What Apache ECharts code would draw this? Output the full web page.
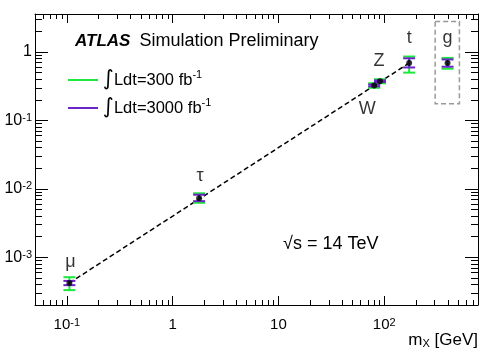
<!DOCTYPE html>
<html>
<head>
<meta charset="utf-8">
<script src="https://cdn.jsdelivr.net/npm/echarts@6/dist/echarts.min.js"></script>
<style>
  html, body { margin: 0; padding: 0; background: #fff; }
  #chart { width: 485px; height: 360px; }
</style>
</head>
<body>
<div id="chart"></div>
<script>
// particle couplings vs mass
var particles = ['μ', 'τ', 'W', 'Z', 't', 'g'];
var mass = [0.1057, 1.78, 80.4, 91.2, 172, 397];
var coupling = [0.00042, 0.0073, 0.325, 0.375, 0.69, 0.69];
var lo300 = [0.00033, 0.00625, 0.300, 0.350, 0.50, 0.57];
var hi300 = [0.00051, 0.0086, 0.350, 0.400, 0.86, 0.82];
var lo3000 = [0.00039, 0.0066, 0.315, 0.365, 0.595, 0.61];
var hi3000 = [0.00045, 0.0082, 0.335, 0.385, 0.81, 0.78];
var xTicks = [0.1, 1, 10, 100];
var xTickLabels = ['10{s|-1}', '1', '10', '10{s|2}'];
var yTicks = [0.001, 0.01, 0.1, 1];
var yTickLabels = ['10{s|-3}', '10{s|-2}', '10{s|-1}', '1'];
var gBox = [[303, 2.8], [514, 0.175]];

var labelOffsets = [[1, -21], [1, -22], [-7, 24], [-1, -20], [0, -25], [0, -25]];
var green = '#1ee83c';
var purple = '#6a26c8';
var font = 'Liberation Sans, Arial, Helvetica, sans-serif';

(function() {
  var chart = echarts.init(document.getElementById('chart'), null, { renderer: 'canvas' });

  var xMin = 0.05, xMax = 770, yMin = 2e-4, yMax = 3.6;

  function minors(lo, hi) {
    var out = [];
    for (var e = Math.floor(Math.log10(lo)); e <= Math.ceil(Math.log10(hi)); e++) {
      for (var k = 2; k <= 9; k++) {
        var v = k * Math.pow(10, e);
        if (v > lo && v < hi) out.push(v);
      }
    }
    return out;
  }

  function pick(vals, labels) {
    return function(v) {
      for (var i = 0; i < vals.length; i++) {
        if (Math.abs(v - vals[i]) / vals[i] < 1e-6) return labels[i];
      }
      return '';
    };
  }

  var rich = { s: { fontSize: 11, verticalAlign: 'top', fontFamily: font, color: '#000' } };

  function axis(pos, min, max, ticks, len, showLine, labelVals, labels, fs, margin) {
    return {
      type: 'log',
      position: pos,
      min: min,
      max: max,
      logBase: 10,
      axisLine: { show: showLine, onZero: false, lineStyle: { color: '#000', width: 1 } },
      axisTick: { show: true, inside: true, length: len, customValues: ticks, lineStyle: { color: '#000', width: 1 } },
      axisLabel: labels ? {
        show: true,
        customValues: labelVals,
        formatter: pick(labelVals, labels),
        color: '#000',
        fontSize: fs,
        fontFamily: font,
        margin: margin,
        rich: rich
      } : { show: false },
      splitLine: { show: false },
      minorTick: { show: false }
    };
  }

  var xMinor = minors(xMin, xMax), yMinor = minors(yMin, yMax);

  var xAxes = [
    axis('bottom', xMin, xMax, xTicks, 9, true, xTicks, xTickLabels, 15, 12),
    axis('bottom', xMin, xMax, xMinor, 5, false),
    axis('top', xMin, xMax, xTicks, 9, true),
    axis('top', xMin, xMax, xMinor, 5, false)
  ];
  xAxes[0].name = 'm{sub|X} [GeV]';
  xAxes[0].nameLocation = 'end';
  xAxes[0].nameGap = 0;
  xAxes[0].nameTextStyle = {
    color: '#000', fontSize: 17, fontFamily: font, align: 'right', verticalAlign: 'top',
    padding: [27, 0, 0, 0],
    rich: { sub: { fontSize: 11, verticalAlign: 'bottom', fontFamily: font, color: '#000' } }
  };

  var yAxes = [
    axis('left', yMin, yMax, yTicks, 13, true, yTicks, yTickLabels, 16, 3),
    axis('left', yMin, yMax, yMinor, 7, false),
    axis('right', yMin, yMax, yTicks, 13, true),
    axis('right', yMin, yMax, yMinor, 7, false)
  ];

  function errRender(params, api) {
    var x = api.value(0);
    var pLo = api.coord([x, api.value(1)]);
    var pHi = api.coord([x, api.value(2)]);
    var w = 6;
    var st = { stroke: api.visual('color'), lineWidth: 2 };
    return {
      type: 'group',
      children: [
        { type: 'line', shape: { x1: pLo[0], y1: pLo[1], x2: pHi[0], y2: pHi[1] }, style: st },
        { type: 'line', shape: { x1: pLo[0] - w, y1: pLo[1], x2: pLo[0] + w, y2: pLo[1] }, style: st },
        { type: 'line', shape: { x1: pHi[0] - w, y1: pHi[1], x2: pHi[0] + w, y2: pHi[1] }, style: st }
      ]
    };
  }

  var err300 = mass.map(function(m, i) { return [m, lo300[i], hi300[i]]; });
  var err3000 = mass.map(function(m, i) { return [m, lo3000[i], hi3000[i]]; });
  var dots = mass.map(function(m, i) {
    return { value: [m, coupling[i]], label: { offset: labelOffsets[i] } };
  });

  chart.setOption({
    animation: false,
    grid: { left: 35, right: 7, top: 14, bottom: 55 },
    title: {
      text: '{a|ATLAS}{b|Simulation Preliminary}',
      left: 70,
      top: 27,
      textStyle: {
        fontWeight: 'normal',
        rich: {
          a: { fontSize: 17, fontWeight: 'bold', fontStyle: 'italic', fontFamily: font, color: '#000' },
          b: { fontSize: 18, fontWeight: 'normal', fontFamily: font, color: '#000', padding: [0, 0, 0, 9] }
        }
      }
    },
    legend: {
      orient: 'vertical',
      left: 63,
      top: 64,
      itemWidth: 30,
      itemHeight: 2,
      itemGap: 6,
      data: [{ name: '300', icon: 'rect' }, { name: '3000', icon: 'rect' }],
      formatter: function(n) { return '{i|∫}Ldt=' + n + ' fb{s|-1}'; },
      textStyle: {
        color: '#000', fontSize: 16.5, fontFamily: font, lineHeight: 22,
        rich: {
          i: { fontSize: 21, fontFamily: 'DejaVu Sans', color: '#000' },
          s: { fontSize: 11, verticalAlign: 'top', fontFamily: font, color: '#000' }
        }
      }
    },
    graphic: [{
      type: 'text',
      left: 283,
      top: 235,
      style: { text: '√s = 14 TeV', fontSize: 18, fontFamily: font, fill: '#000' }
    }],
    xAxis: xAxes,
    yAxis: yAxes,
    series: [
      {
        type: 'line',
        data: [[mass[0], coupling[0]], [mass[4], coupling[4]]],
        symbol: 'none',
        lineStyle: { color: '#000', width: 1.5, type: [5, 3] },
        silent: true,
        z: 1
      },
      {
        name: '300',
        type: 'custom',
        renderItem: errRender,
        encode: { x: 0, y: [1, 2] },
        itemStyle: { color: green },
        data: err300,
        z: 2
      },
      {
        name: '3000',
        type: 'custom',
        renderItem: errRender,
        encode: { x: 0, y: [1, 2] },
        itemStyle: { color: purple },
        data: err3000,
        z: 3
      },
      {
        type: 'scatter',
        symbol: 'circle',
        symbolSize: 6,
        itemStyle: { color: '#000' },
        data: dots,
        label: {
          show: true,
          position: 'inside',
          formatter: function(p) { return particles[p.dataIndex]; },
          color: '#000',
          fontSize: 18,
          fontFamily: font
        },
        markArea: {
          silent: true,
          itemStyle: { color: 'rgba(0,0,0,0)', borderColor: '#999', borderWidth: 1.5, borderType: [5, 3] },
          data: [[{ coord: gBox[0] }, { coord: gBox[1] }]]
        },
        z: 4
      }
    ]
  });
  window.addEventListener('resize', function() { chart.resize(); });
})();
</script>
</body>
</html>
